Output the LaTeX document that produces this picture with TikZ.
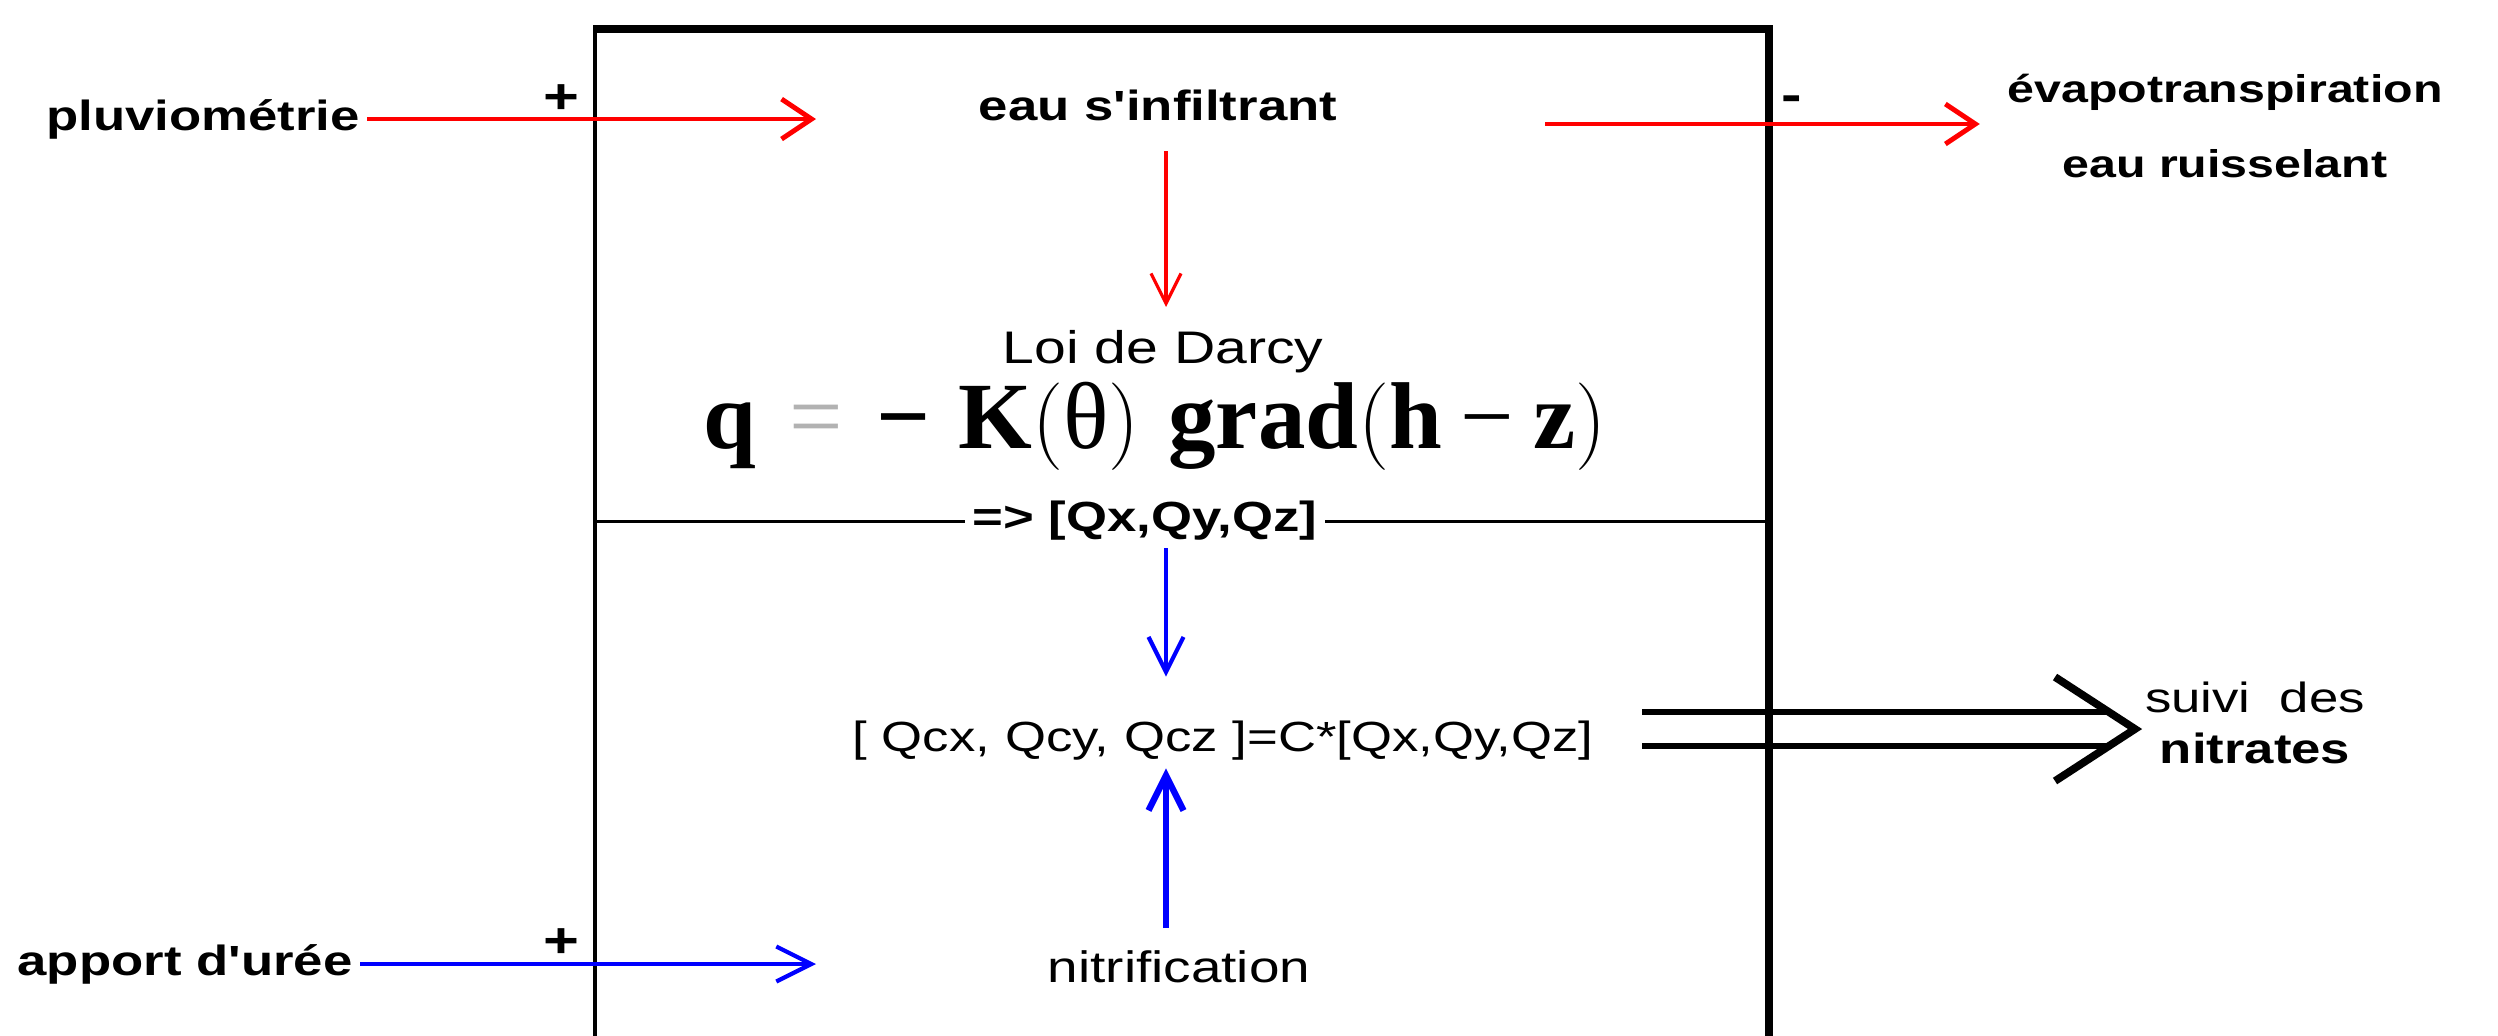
\documentclass[tikz,border=0pt]{standalone}
\usepackage{fontspec}
\setmainfont{Liberation Sans}[FakeStretch=1.25, Ligatures=TeXOff]
\newfontfamily\formfont{Liberation Serif}
\usetikzlibrary{arrows.meta,positioning,calc}

\begin{document}
\begin{tikzpicture}[
    txt/.style={inner sep=2pt, font=\fontsize{12}{14}\selectfont},
    txtb/.style={inner sep=2pt, font=\fontsize{12}{14}\selectfont\bfseries},
    sign/.style={inner sep=0pt, font=\fontsize{14}{14}\selectfont\bfseries},
    redarrow/.style={draw=red, line width=1.4pt, -{Straight Barb[length=3mm,width=4mm]}},
    bluearrow/.style={draw=blue, line width=1.2pt, -{Straight Barb[length=3.5mm,width=3.5mm]}},
    dblarrow/.style={draw=black, line width=1.6pt},
    wall/.style={draw=black, line width=0.8mm}
]
\useasboundingbox (0,0) rectangle (24.98,-10.35);

% Soil box
\draw[wall] (5.95,-0.29) -- (17.69,-0.29) -- (17.69,-10.5);
\draw[line width=0.45mm] (5.95,-0.25) -- (5.95,-10.5);

% Water part
\node[txtb] (pluvio) at (2.03,-1.19) {pluviométrie};
\node[txtb] (infil) at (11.58,-1.05) {eau s'infiltrant};
\node[txtb, align=center, font=\fontsize{11}{21.5}\selectfont\bfseries] (evapo) at (22.25,-1.26) {évapotranspiration\\eau ruisselant};
\node[txt, font=\fontsize{13}{15}\selectfont] (darcy) at (11.63,-3.52) {Loi de Darcy};
\node[inner sep=0pt, font=\formfont\fontsize{27}{29}\selectfont] (loi) at (11.55,-4.26)
    {\textbf{q}\hspace{0.35em}\textcolor{black!30}{=}\hspace{0.35em}\textbf{−}\hspace{0.3em}\textbf{K}$\bigl($θ$\bigr)$\hspace{0.3em}\textbf{grad}$\bigl($\textbf{h}\hspace{0.2em}−\hspace{0.2em}\textbf{z}$\bigr)$};
\node[txtb] (flux) at (11.45,-5.21) {=> [Qx,Qy,Qz]};

% Nitrate part
\node[txt] (qc) at (12.23,-7.41) {[ Qcx, Qcy, Qcz ]=C*[Qx,Qy,Qz]};
\node[txt, font=\fontsize{12.5}{14}\selectfont] (nitrif) at (11.79,-9.67) {nitrification};
\node[txtb] (uree) at (1.85,-9.64) {apport d'urée};
\node[txt, align=center, font=\fontsize{12}{14.5}\selectfont] (suivi) at (22.55,-7.23) {suivi\ \ des\\\textbf{nitrates}};

% Signs
\node[sign] (plusA) at (5.61,-0.99) {+};
\node[sign] (plusB) at (5.61,-9.43) {+};
\node[sign] (minus) at (17.92,-1.04) {-};

% Arrows
\coordinate (axis) at (11.66,0);
\coordinate (pluvioEnd) at (8.16,-1.19);
\coordinate (evapoStart) at (15.45,-1.24);
\coordinate (ureeEnd) at (8.16,-9.64);
\coordinate (tip) at (21.35,-7.29);

\draw[redarrow] (pluvio.east) -- (pluvioEnd);
\draw[redarrow, shorten >=2mm] (evapoStart) -- (evapoStart -| evapo.west);
\draw[redarrow, line width=0.9pt, -{Straight Barb[length=3mm,width=3mm]}, shorten <=2.3mm, shorten >=1.6mm] (infil.south -| axis) -- (darcy.north -| axis);

\draw[bluearrow, shorten >=3.7mm] (flux.south -| axis) -- (qc.north -| axis);
\draw[bluearrow, line width=1.8pt, shorten <=1.5mm] (nitrif.north -| axis) -- (qc.south -| axis);
\draw[bluearrow] (uree.east) -- (ureeEnd);

% Divider
\draw[line width=0.3mm] (5.95,-5.21) -- (flux.west);
\draw[line width=0.3mm] (flux.east) -- (17.69,-5.21);

% Double arrow
\draw[dblarrow] ($(qc.east |- tip)+(0.41,0.17)$) -- ($(tip)+(-0.26,0.17)$);
\draw[dblarrow] ($(qc.east |- tip)+(0.41,-0.17)$) -- ($(tip)+(-0.26,-0.17)$);
\draw[dblarrow, line width=2.2pt, line join=miter] ($(tip)+(-0.8,0.52)$) -- (tip) -- ($(tip)+(-0.8,-0.52)$);

\end{tikzpicture}
\end{document}
